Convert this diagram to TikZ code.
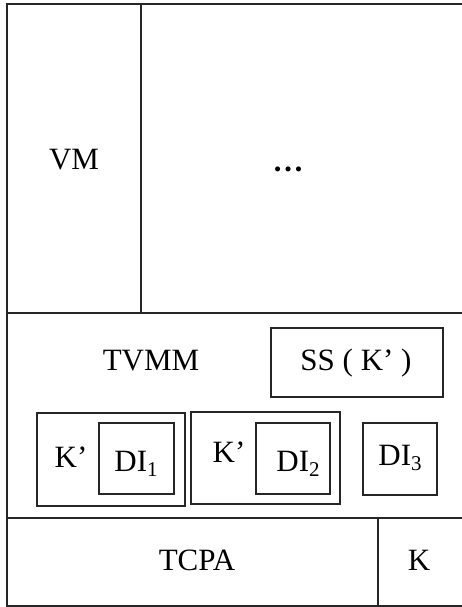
\documentclass[tikz,border=0pt]{standalone}
\usepackage{fontspec}
\setmainfont{Liberation Serif}
\newcommand{\sublow}[1]{\raisebox{-5pt}{\fontsize{21}{21}\selectfont #1}}
\begin{document}
\begin{tikzpicture}[x=1pt,y=-1pt,
  frame/.style={line width=2.1pt,draw=black!85},
  part/.style={line width=1.8pt,draw=black!85},
  lbl/.style={font=\fontsize{31}{31}\selectfont,inner sep=0pt,anchor=base},
  boxed/.style={part,inner sep=0pt,anchor=north west}]
\useasboundingbox (0,0) rectangle (462,607);
\clip (0,0) rectangle (462,607);
% outer frame and its divisions
\draw[frame] (480,4) -- (7,4) -- (7,606) -- (480,606);
\coordinate (topL) at (7,313);
\coordinate (topR) at (480,313);
\coordinate (botL) at (7,518);
\coordinate (botR) at (480,518);
\draw[frame] (topL) -- (topR);
\draw[frame] (botL) -- (botR);
\coordinate (vmT) at (141,4);
\coordinate (vmB) at (141,313);
\draw[frame] (vmT) -- (vmB);
\coordinate (kT) at (378,518);
\coordinate (kB) at (378,606);
\draw[frame] (kT) -- (kB);
% top row
\node[lbl] (vm) at (74,169) {VM};
\node[lbl] (dots) at (288,171) {\textbf{…}};
% middle row
\node[lbl] (tvmm) at (151,370) {TVMM};
\node[boxed,minimum width=172pt,minimum height=69pt] (ss) at (270,327) {};
\node[lbl] (sst) at (356,370) {SS ( K’ )};
\node[boxed,minimum width=148pt,minimum height=93pt] (k1) at (36,412) {};
\node[boxed,minimum width=75pt,minimum height=71pt] (d1) at (98,422) {};
\node[lbl] (k1t) at (71,467) {K’};
\node[lbl] (d1t) at (136,471) {DI\sublow{1}};
\node[boxed,minimum width=149pt,minimum height=92pt] (k2) at (190,411) {};
\node[boxed,minimum width=74pt,minimum height=71pt] (d2) at (255,422) {};
\node[lbl] (k2t) at (229,462) {K’};
\node[lbl] (d2t) at (298,471) {DI\sublow{2}};
\node[boxed,minimum width=74pt,minimum height=72pt] (d3) at (362,422) {};
\node[lbl] (d3t) at (400,465) {DI\sublow{3}};
% bottom row
\node[lbl] (tcpa) at (197,570) {TCPA};
\node[lbl] (k) at (419,570) {K};
\end{tikzpicture}
\end{document}
